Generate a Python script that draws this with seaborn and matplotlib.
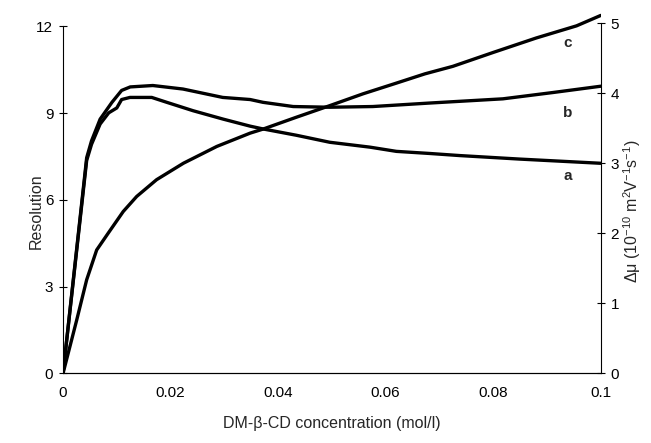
#!/usr/bin/env python3

import seaborn as sns
import matplotlib
matplotlib.use("Agg")
import matplotlib.pyplot as plt
import pandas as pd

# curve c (left axis, Resolution)
conc_c = [0, 0.00255, 0.0044, 0.00626, 0.0084, 0.0112, 0.0137, 0.0174, 0.0224,
          0.0286, 0.0348, 0.0372, 0.0434, 0.0496, 0.0558, 0.062, 0.0673, 0.0725,
          0.080, 0.088, 0.0955, 0.1]
res_c = [0, 1.85, 3.24, 4.27, 4.85, 5.60, 6.12, 6.70, 7.27,
         7.85, 8.31, 8.45, 8.86, 9.26, 9.67, 10.04, 10.36, 10.62,
         11.10, 11.60, 12.02, 12.38]

# curves a and b (right axis, delta mu)
conc_b = [0, 0.0044, 0.0053, 0.0069, 0.0091, 0.0109, 0.0125, 0.0167, 0.0223,
          0.0297, 0.0348, 0.0372, 0.0428, 0.0496, 0.0576, 0.0682, 0.0818, 0.0911, 0.1]
dmu_b = [0, 3.08, 3.32, 3.63, 3.87, 4.04, 4.09, 4.11, 4.06,
         3.94, 3.91, 3.87, 3.81, 3.80, 3.81, 3.86, 3.92, 4.01, 4.10]

conc_a = [0, 0.0044, 0.0053, 0.0069, 0.0085, 0.0100, 0.0109, 0.01245, 0.0165,
          0.0193, 0.0242, 0.0298, 0.0348, 0.0372, 0.0434, 0.0496, 0.0571, 0.062,
          0.0682, 0.0738, 0.0849, 0.1]
dmu_a = [0, 3.04, 3.27, 3.56, 3.72, 3.79, 3.91, 3.94, 3.94,
         3.87, 3.75, 3.63, 3.53, 3.49, 3.40, 3.30, 3.23, 3.17,
         3.14, 3.11, 3.06, 3.00]

x_ticks = [0, 0.02, 0.04, 0.06, 0.08, 0.1]
x_labels = ["0", "0.02", "0.04", "0.06", "0.08", "0.1"]
left_ticks = [0, 3, 6, 9, 12]
right_ticks = [0, 1, 2, 3, 4, 5]

sns.set_theme(style="white")
plt.rcParams['font.family'] = ['Liberation Sans', 'DejaVu Sans']
plt.rcParams['mathtext.fontset'] = 'custom'
plt.rcParams['mathtext.rm'] = 'Liberation Sans'

fig = plt.figure(figsize=(6.51, 4.43), dpi=100)
ax = fig.add_axes([0.0968, 0.157, 0.826, 0.816])
ax2 = ax.twinx()

df_c = pd.DataFrame({"conc": conc_c, "val": res_c})
df_a = pd.DataFrame({"conc": conc_a, "val": dmu_a})
df_b = pd.DataFrame({"conc": conc_b, "val": dmu_b})

line_kw = dict(color="black", linewidth=2.4, solid_joinstyle="round", solid_capstyle="round")
sns.lineplot(data=df_c, x="conc", y="val", ax=ax, **line_kw)
sns.lineplot(data=df_a, x="conc", y="val", ax=ax2, **line_kw)
sns.lineplot(data=df_b, x="conc", y="val", ax=ax2, **line_kw)

ax.set_xlim(0, 0.1)
ax.set_ylim(0, 12.5)
ax2.set_ylim(0, 5.16)

ax.set_xticks(x_ticks)
ax.set_xticklabels(x_labels)
ax.set_yticks(left_ticks)
ax2.set_yticks(right_ticks)

for a in (ax, ax2):
    a.spines["top"].set_visible(False)
    for s in ("left", "right", "bottom"):
        a.spines[s].set_linewidth(0.8)
        a.spines[s].set_color("black")
    a.tick_params(direction="inout", length=6, width=0.8, labelsize=11,
                  colors="black", pad=4)
ax.spines["left"].set_bounds(0, 12)
ax2.spines["right"].set_bounds(0, 5)
ax.spines["right"].set_visible(False)
ax2.spines["left"].set_visible(False)

ax.tick_params(axis="x", pad=6)
ax.set_xlabel("DM-β-CD concentration (mol/l)", fontsize=11.5)
ax.set_ylabel("Resolution", fontsize=11.5)
ax2.set_ylabel(r"Δμ (10$^{-10}$ m$^{2}$V$^{-1}$s$^{-1}$)", fontsize=11.5)
ax.xaxis.set_label_coords(0.5, -0.118)
ax.yaxis.set_label_coords(-0.035, 0.45)
ax2.yaxis.set_label_coords(1.038, 0.45)

ax.text(0.0930, 11.3, "c", fontsize=11, fontweight="bold")
ax2.text(0.0930, 3.66, "b", fontsize=11, fontweight="bold")
ax2.text(0.0930, 2.76, "a", fontsize=11, fontweight="bold")

ax.grid(False)
ax2.grid(False)

plt.savefig("out.png", dpi=100)
plt.close()
